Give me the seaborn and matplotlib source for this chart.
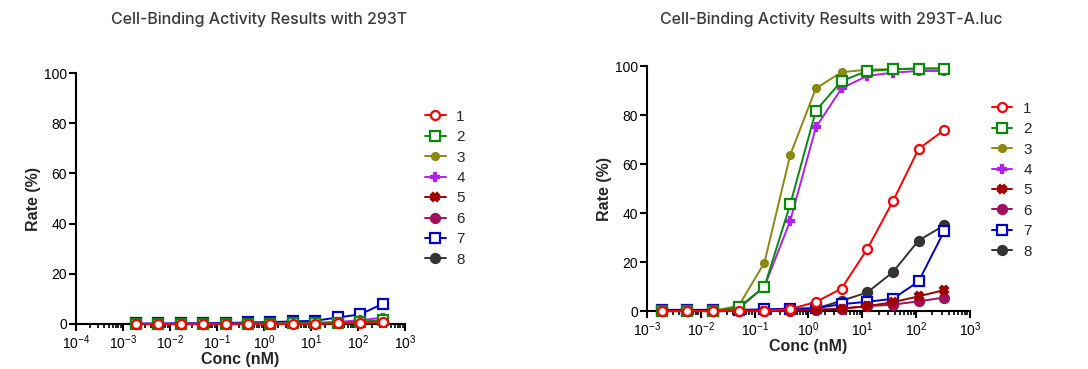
import numpy as np
import pandas as pd
import matplotlib
matplotlib.use('Agg')
import matplotlib.pyplot as plt
import matplotlib.ticker as mticker
import seaborn as sns

# 3-fold dilution series (nM)
conc = [0.00188, 0.00564, 0.0169, 0.0508, 0.152, 0.457, 1.372, 4.115, 12.35, 37.04, 111.1, 333.3]
labels = ['1', '2', '3', '4', '5', '6', '7', '8']

# 293T
rate_293t = {
    '1': [0, 0, 0, 0, 0, 0, 0, 0, 0.1, 0.2, 0.4, 0.6],
    '2': [0, 0, 0, 0, 0, 0.1, 0.1, 0.2, 0.3, 0.5, 0.9, 1.5],
    '3': [0, 0, 0, 0, 0, 0.1, 0.1, 0.2, 0.3, 0.5, 0.8, 1.2],
    '4': [0, 0, 0, 0, 0.1, 0.1, 0.2, 0.3, 0.5, 0.8, 1.5, 2.5],
    '5': [0, 0, 0, 0, 0, 0.1, 0.1, 0.2, 0.3, 0.4, 0.6, 0.9],
    '6': [0, 0, 0, 0, 0, 0.1, 0.1, 0.2, 0.3, 0.4, 0.6, 0.9],
    '7': [0.2, 0.2, 0.3, 0.3, 0.4, 0.6, 0.8, 1.0, 1.3, 2.6, 3.8, 8.0],
    '8': [0, 0, 0, 0, 0, 0.1, 0.2, 0.2, 0.3, 0.5, 0.7, 1.0],
}

# 293T-A.luc
rate_aluc = {
    '1': [0, 0, 0, 0.1, 0.2, 0.8, 3.7, 9.2, 25.3, 44.8, 66.2, 73.9],
    '2': [0, 0, 0, 1.5, 10.0, 43.5, 81.8, 93.9, 98.0, 98.6, 99.0, 99.0],
    '3': [0, 0, 0, 2.2, 19.8, 63.7, 90.9, 97.5, 98.5, 98.8, 99.0, 99.0],
    '4': [0, 0, 0, 1.0, 10.0, 36.8, 75.0, 90.9, 96.0, 97.3, 98.0, 98.0],
    '5': [0, 0, 0, 0, 0, 0.2, 0.4, 1.0, 2.0, 3.6, 6.0, 8.6],
    '6': [0, 0, 0, 0, 0, 0.2, 0.5, 1.0, 2.0, 2.6, 4.0, 5.5],
    '7': [0.5, 0.5, 0.5, 0.5, 0.7, 1.0, 1.2, 2.8, 3.8, 5.0, 12.1, 32.7],
    '8': [0, 0, 0, 0, 0.2, 0.5, 1.0, 4.2, 7.6, 15.9, 28.8, 35.0],
}

colors = ['#ff0000', '#0a8a0a', '#8a8a10', '#b020f0', '#a00000', '#a0105a', '#0000cc', '#333333']
markers = ['o', 's', 'o', 'P', 'X', 'o', 's', 'o']
open_marker = [True, True, False, False, False, False, True, False]
msizes = [6.5, 6.5, 5, 6, 6, 6.5, 6.5, 6.5]

sns.set_style('ticks')
plt.rcParams['font.family'] = ['Liberation Sans', 'DejaVu Sans']
plt.rcParams['mathtext.fontset'] = 'custom'
plt.rcParams['mathtext.rm'] = 'Liberation Sans'
plt.rcParams['mathtext.it'] = 'Liberation Sans'

fig = plt.figure(figsize=(10.88, 3.69), dpi=100)
ax1 = fig.add_axes([0.0699, 0.122, 0.3023, 0.680])
ax2 = fig.add_axes([0.5947, 0.157, 0.2968, 0.664])


def draw(ax, rates, xmin, title, title_x, leg_anchor):
    for i, lab in enumerate(labels):
        face = 'white' if open_marker[i] else colors[i]
        # series 1 sits on top, as in the original
        sns.lineplot(x=conc, y=rates[lab], ax=ax, color=colors[i], marker=markers[i],
                     markersize=msizes[i], markerfacecolor=face, markeredgecolor=colors[i],
                     markeredgewidth=1.6, linewidth=1.4, label=lab, clip_on=False,
                     zorder=4 - i * 0.1)
    ax.set_xscale('log')
    ax.set_xlim(xmin, 1e3)
    ax.set_ylim(0, 100)
    ax.set_yticks([0, 20, 40, 60, 80, 100])
    ax.xaxis.set_major_locator(mticker.LogLocator(base=10, numticks=20))
    ax.xaxis.set_minor_locator(mticker.LogLocator(base=10, subs=np.arange(2, 10), numticks=20))
    ax.xaxis.set_minor_formatter(mticker.NullFormatter())
    for s in ['top', 'right']:
        ax.spines[s].set_visible(False)
    for s in ['left', 'bottom']:
        ax.spines[s].set_linewidth(1.5)
        ax.spines[s].set_color('black')
    ax.tick_params(axis='both', which='major', length=5, width=1.5, labelsize=10,
                   colors='black', pad=1.5)
    ax.tick_params(axis='x', which='minor', length=3, width=1.2, colors='black')
    ax.set_xlabel('Conc (nM)', fontsize=11.5, fontweight='bold', labelpad=0)
    ax.set_ylabel('Rate (%)', fontsize=11.5, fontweight='bold', labelpad=2)
    fig.text(title_x, 0.948, title, ha='center', va='center', fontsize=11.5,
             color='#3a3a3a', fontweight='medium', family=['Inter', 'DejaVu Sans'])
    ax.legend(loc='upper left', bbox_to_anchor=leg_anchor, bbox_transform=fig.transFigure,
              frameon=False, fontsize=11, handlelength=1.35, handletextpad=0.7,
              labelspacing=0.42, borderaxespad=0)


draw(ax1, rate_293t, 1e-4, 'Cell-Binding Activity Results with 293T', 0.238, (0.385, 0.719))
draw(ax2, rate_aluc, 1e-3, 'Cell-Binding Activity Results with 293T-A.luc', 0.764, (0.906, 0.741))

fig.savefig('out.png', dpi=100)
